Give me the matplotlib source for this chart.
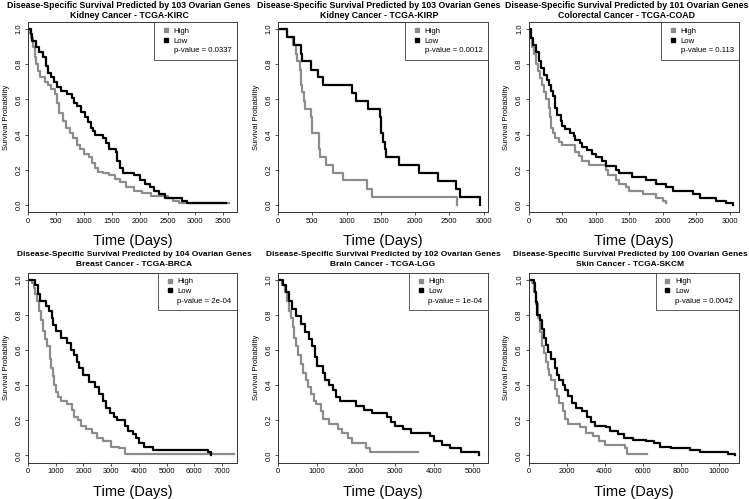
import matplotlib
matplotlib.use("Agg")
import matplotlib.pyplot as plt
from matplotlib.lines import Line2D

plt.rcParams['font.family'] = ['Liberation Sans', 'DejaVu Sans']

W, H = 749, 499

# ---- data (time in days, survival probability) ----
kirc_high_t = [0, 30, 60, 90, 120, 150, 180, 220, 300, 350, 420, 480, 520, 560, 620, 680, 750, 800, 870,
               930, 1000, 1100, 1150, 1200, 1250, 1350, 1450, 1550, 1650, 1750, 1900, 2050, 2200, 2500, 2600, 2700, 3600]
kirc_high_s = [1.0, 0.98, 0.95, 0.90, 0.84, 0.80, 0.76, 0.73, 0.70, 0.68, 0.66, 0.63, 0.58, 0.52, 0.48, 0.44, 0.41, 0.38, 0.34,
               0.32, 0.29, 0.27, 0.24, 0.21, 0.19, 0.18, 0.17, 0.15, 0.13, 0.10, 0.08, 0.07, 0.05, 0.04, 0.02, 0.01, 0.01]
kirc_low_t = [0, 50, 80, 150, 200, 270, 330, 350, 420, 470, 520, 600, 700, 780, 820, 880, 950, 1020, 1080, 1120,
              1170, 1200, 1350, 1400, 1450, 1570, 1600, 1650, 1700, 1900, 2000, 2100, 2180, 2250, 2350, 2450, 2750, 2850, 3550]
kirc_low_s = [1.0, 0.97, 0.93, 0.90, 0.87, 0.84, 0.79, 0.75, 0.73, 0.70, 0.67, 0.65, 0.63, 0.61, 0.58, 0.56, 0.53, 0.50, 0.47, 0.44,
              0.42, 0.40, 0.38, 0.35, 0.32, 0.30, 0.25, 0.21, 0.18, 0.17, 0.14, 0.12, 0.10, 0.08, 0.06, 0.04, 0.02, 0.01, 0.01]

kirp_high_t = [0, 130, 220, 260, 280, 320, 330, 345, 380, 400, 480, 490, 500, 600, 620, 700, 800, 950, 1300, 1370, 2610, 2610]
kirp_high_s = [1.0, 0.955, 0.91, 0.86, 0.82, 0.77, 0.68, 0.64, 0.59, 0.545, 0.50, 0.45, 0.41, 0.32, 0.27, 0.23, 0.18, 0.14, 0.09, 0.045, 0.045, 0.0]
kirp_low_t = [0, 130, 240, 330, 350, 480, 580, 660, 1080, 1140, 1310, 1490, 1510, 1530, 1560, 1580, 1760, 2050, 2330, 2600, 2650, 2950, 2950]
kirp_low_s = [1.0, 0.955, 0.91, 0.86, 0.82, 0.77, 0.73, 0.68, 0.635, 0.59, 0.545, 0.50, 0.41, 0.36, 0.32, 0.27, 0.23, 0.18, 0.135, 0.09, 0.045, 0.045, 0.0]

coad_high_t = [0, 20, 50, 80, 110, 140, 170, 200, 230, 260, 300, 320, 340, 360, 400, 450, 500, 700, 750, 800, 900,
               1150, 1180, 1300, 1350, 1450, 1500, 1700, 1900, 2000, 2050]
coad_high_s = [1.0, 0.95, 0.90, 0.86, 0.80, 0.76, 0.72, 0.68, 0.64, 0.60, 0.55, 0.50, 0.44, 0.41, 0.38, 0.36, 0.34, 0.30, 0.28, 0.25, 0.23,
               0.20, 0.17, 0.14, 0.12, 0.10, 0.08, 0.06, 0.04, 0.02, 0.01]
coad_low_t = [0, 40, 70, 110, 150, 180, 230, 270, 300, 330, 360, 390, 400, 430, 480, 500, 550, 620, 680, 700, 770, 800, 870,
              950, 1000, 1100, 1150, 1300, 1350, 1550, 1750, 1900, 2050, 2150, 2450, 2550, 2800, 2950, 3050]
coad_low_s = [1.0, 0.95, 0.91, 0.87, 0.82, 0.78, 0.74, 0.71, 0.68, 0.65, 0.62, 0.58, 0.55, 0.51, 0.48, 0.45, 0.43, 0.41, 0.39, 0.37, 0.35, 0.33, 0.31,
              0.29, 0.27, 0.25, 0.22, 0.20, 0.18, 0.16, 0.14, 0.12, 0.10, 0.08, 0.06, 0.04, 0.02, 0.01, 0.0]

brca_high_t = [0, 150, 200, 250, 330, 400, 470, 530, 620, 700, 780, 830, 900, 950, 1000, 1100, 1200, 1400, 1600, 1650, 1800,
               1900, 2100, 2300, 2500, 2700, 3000, 3300, 3500, 7450]
brca_high_s = [1.0, 0.98, 0.95, 0.92, 0.88, 0.82, 0.77, 0.71, 0.66, 0.62, 0.55, 0.50, 0.45, 0.40, 0.36, 0.33, 0.31, 0.29, 0.26, 0.22, 0.20,
               0.17, 0.15, 0.13, 0.10, 0.08, 0.05, 0.04, 0.01, 0.01]
brca_low_t = [0, 250, 350, 450, 650, 750, 850, 900, 1000, 1200, 1400, 1550, 1650, 1750, 1850, 2000, 2200, 2400, 2550, 2700,
              2800, 2950, 3100, 3200, 3500, 3600, 3800, 3900, 4000, 4200, 4500, 6500, 6600]
brca_low_s = [1.0, 0.97, 0.92, 0.88, 0.85, 0.82, 0.78, 0.74, 0.71, 0.67, 0.64, 0.60, 0.57, 0.53, 0.50, 0.46, 0.42, 0.39, 0.35, 0.31,
              0.27, 0.24, 0.22, 0.20, 0.17, 0.14, 0.12, 0.10, 0.07, 0.05, 0.03, 0.02, 0.0]

lgg_high_t = [0, 100, 180, 220, 270, 330, 380, 420, 470, 520, 580, 650, 720, 780, 850, 920, 980, 1100, 1150, 1300, 1550,
              1650, 1800, 1900, 2250, 2350, 3600]
lgg_high_s = [1.0, 0.97, 0.93, 0.88, 0.82, 0.78, 0.73, 0.67, 0.62, 0.57, 0.52, 0.47, 0.43, 0.39, 0.35, 0.31, 0.29, 0.25, 0.21, 0.18, 0.15,
              0.13, 0.10, 0.07, 0.04, 0.02, 0.02]
lgg_low_t = [0, 120, 200, 280, 350, 450, 600, 700, 800, 880, 950, 1000, 1150, 1200, 1300, 1400, 1500, 1600, 2000, 2200,
             2400, 2800, 2900, 3000, 3200, 3400, 3900, 4000, 4200, 4400, 4700, 5150]
lgg_low_s = [1.0, 0.97, 0.93, 0.88, 0.83, 0.79, 0.75, 0.70, 0.66, 0.62, 0.56, 0.51, 0.47, 0.43, 0.40, 0.37, 0.33, 0.31, 0.28, 0.26,
             0.24, 0.22, 0.19, 0.17, 0.15, 0.13, 0.11, 0.08, 0.06, 0.04, 0.02, 0.0]

skcm_high_t = [0, 200, 300, 400, 500, 600, 700, 800, 900, 1000, 1100, 1200, 1400, 1500, 1600, 1800, 1900, 2100, 2700,
               3000, 3400, 3700, 4000, 5100, 5200, 6250]
skcm_high_s = [1.0, 0.98, 0.93, 0.86, 0.78, 0.70, 0.62, 0.58, 0.53, 0.49, 0.46, 0.43, 0.38, 0.34, 0.30, 0.25, 0.21, 0.18, 0.16,
               0.13, 0.11, 0.08, 0.06, 0.04, 0.01, 0.01]
skcm_low_t = [0, 300, 350, 400, 450, 600, 700, 800, 900, 1000, 1200, 1400, 1500, 1600, 1800, 1900, 2100, 2300, 2500, 2800,
              3100, 3300, 3500, 4100, 4300, 4700, 5000, 5500, 6200, 6600, 6900, 7500, 8500, 9000, 10500, 10850]
skcm_low_s = [1.0, 0.98, 0.93, 0.87, 0.80, 0.77, 0.72, 0.67, 0.63, 0.59, 0.55, 0.50, 0.46, 0.43, 0.40, 0.37, 0.34, 0.30, 0.27, 0.25,
              0.22, 0.19, 0.17, 0.16, 0.14, 0.12, 0.10, 0.09, 0.08, 0.07, 0.05, 0.04, 0.03, 0.02, 0.01, 0.0]

gene_counts = [103, 103, 101, 104, 102, 100]
cancers = ["Kidney Cancer - TCGA-KIRC", "Kidney Cancer - TCGA-KIRP", "Colorectal Cancer - TCGA-COAD",
           "Breast Cancer - TCGA-BRCA", "Brain Cancer - TCGA-LGG", "Skin Cancer - TCGA-SKCM"]
pvalues = ["0.0337", "0.0012", "0.113", "2e-04", "1e-04", "0.0042"]
xticks = [[0, 500, 1000, 1500, 2000, 2500, 3000, 3500],
          [0, 500, 1000, 1500, 2000, 2500, 3000],
          [0, 500, 1000, 1500, 2000, 2500, 3000],
          [0, 1000, 2000, 3000, 4000, 5000, 6000, 7000],
          [0, 1000, 2000, 3000, 4000, 5000],
          [0, 2000, 4000, 6000, 8000, 10000]]
xmax = [3744, 3064, 3139, 7541, 5385, 11042]
curves = [(kirc_high_t, kirc_high_s, kirc_low_t, kirc_low_s),
          (kirp_high_t, kirp_high_s, kirp_low_t, kirp_low_s),
          (coad_high_t, coad_high_s, coad_low_t, coad_low_s),
          (brca_high_t, brca_high_s, brca_low_t, brca_low_s),
          (lgg_high_t, lgg_high_s, lgg_low_t, lgg_low_s),
          (skcm_high_t, skcm_high_s, skcm_low_t, skcm_low_s)]

# layout in pixels: axes box (left, top, right, bottom), title centre x, title rows y
boxes = [(28, 22, 237, 212), (278, 22, 488, 212), (528.5, 22, 739, 212),
         (28, 272.5, 237, 462.5), (278, 272.5, 488, 462.5), (528.5, 272.5, 738.5, 462.5)]
title_x = [129, 379, 627, 134, 383, 630]
title_y = [(5, 15.7), (5, 15.7), (5, 15.7), (254.7, 265), (254.7, 265), (254.7, 265)]
title_fs = [6.3, 6.3, 6.3, 6.0, 6.0, 6.0]

GREY = '#8c8c8c'
fig = plt.figure(figsize=(W / 100, H / 100), dpi=100)

for i in range(6):
    l, t, r, b = boxes[i]
    ax = fig.add_axes([l / W, 1 - b / H, (r - l) / W, (b - t) / H])
    ht, hs, lt, ls = curves[i]
    ax.step(ht, hs, where='post', color=GREY, lw=1.6)
    ax.step(lt, ls, where='post', color='black', lw=1.6)
    ax.set_xlim(0, xmax[i])
    ax.set_ylim(-0.04, 1.04)
    ax.set_xticks(xticks[i])
    ax.set_yticks([0, 0.2, 0.4, 0.6, 0.8, 1.0])
    ax.set_yticklabels(["0.0", "0.2", "0.4", "0.6", "0.8", "1.0"], rotation=90, va='center')
    ax.tick_params(labelsize=5.4, length=2.2, width=0.6, color='#333333', pad=1.8)
    for sp in ax.spines.values():
        sp.set_linewidth(0.7)
        sp.set_color('#333333')
    ax.set_ylabel("Survival Probability", fontsize=5.5, labelpad=4)
    ax.set_xlabel("Time (Days)", fontsize=10.5, labelpad=7)
    fig.text(title_x[i] / W, 1 - title_y[i][0] / H,
             "Disease-Specific Survival Predicted by %d Ovarian Genes" % gene_counts[i],
             ha='center', va='center', fontsize=title_fs[i], fontweight='bold')
    fig.text(title_x[i] / W, 1 - title_y[i][1] / H, cancers[i],
             ha='center', va='center', fontsize=title_fs[i], fontweight='bold')

    handles = [Line2D([], [], marker='s', ls='', color=GREY, markersize=3.5),
               Line2D([], [], marker='s', ls='', color='black', markersize=3.5),
               Line2D([], [], marker='s', ls='', color='none', markersize=3.5)]
    leg = ax.legend(handles, ["High", "Low", "p-value = " + pvalues[i]], loc='upper right',
                    fontsize=5.6, frameon=True, fancybox=False, borderaxespad=0, handlelength=1.6,
                    handletextpad=0.2, labelspacing=0.3, borderpad=0.7)
    leg.get_frame().set_edgecolor('#333333')
    leg.get_frame().set_linewidth(0.7)

fig.savefig("out.png", dpi=100)
